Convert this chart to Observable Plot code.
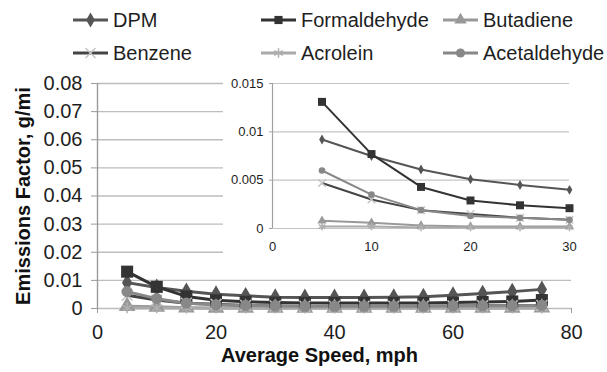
<!DOCTYPE html>
<html>
<head>
<meta charset="utf-8">
<script src="https://cdn.jsdelivr.net/npm/d3@7"></script>
<script src="https://cdn.jsdelivr.net/npm/@observablehq/plot@0.6"></script>
<style>
  html, body { margin: 0; padding: 0; background: #fff; }
  body { width: 607px; height: 372px; position: relative; overflow: hidden; font-family: "Liberation Sans", Arial, sans-serif; }
  #main { position: absolute; left: 0; top: 0; }
  #inset { position: absolute; left: 223px; top: 66px; width: 384px; height: 194px; background: #fff; }
  #legend { position: absolute; left: 0; top: 0; width: 607px; height: 66px; }
  .item { position: absolute; display: flex; align-items: center; font-size: 20px; color: #1e1e1e; white-space: nowrap; }
  .item svg { margin-right: 5px; }
</style>
</head>
<body>
<div id="main"></div>
<div id="inset"></div>
<div id="legend"></div>
<script>
// ---- data ----
const speed = [5, 10, 15, 20, 25, 30, 35, 40, 45, 50, 55, 60, 65, 70, 75];
const dpm          = [0.0092, 0.0075, 0.0061, 0.0051, 0.0045, 0.0040, 0.0039, 0.0039, 0.0039, 0.0040, 0.0042, 0.0047, 0.0053, 0.0060, 0.0068];
const formaldehyde = [0.0131, 0.0077, 0.0043, 0.0029, 0.0024, 0.0021, 0.0020, 0.0020, 0.0020, 0.0020, 0.0020, 0.0021, 0.0023, 0.0025, 0.0030];
const butadiene    = [0.0008, 0.0006, 0.0003, 0.0002, 0.0002, 0.0002, 0.0002, 0.0002, 0.0002, 0.0002, 0.0002, 0.0002, 0.0002, 0.0002, 0.0003];
const benzene      = [0.0047, 0.0030, 0.0019, 0.0015, 0.0011, 0.0009, 0.0008, 0.0008, 0.0008, 0.0008, 0.0008, 0.0009, 0.0010, 0.0010, 0.0011];
const acrolein     = [0.0002, 0.0002, 0.0001, 0.0001, 0.0001, 0.0001, 0.0001, 0.0001, 0.0001, 0.0001, 0.0001, 0.0001, 0.0001, 0.0001, 0.0001];
const acetaldehyde = [0.0060, 0.0035, 0.0019, 0.0013, 0.0011, 0.0009, 0.0008, 0.0008, 0.0008, 0.0008, 0.0008, 0.0009, 0.0010, 0.0010, 0.0011];

const seriesNames = ["DPM", "Formaldehyde", "Butadiene", "Benzene", "Acrolein", "Acetaldehyde"];
const xTicksMain = [0, 20, 40, 60, 80];
const yTicksMain = [0, 0.01, 0.02, 0.03, 0.04, 0.05, 0.06, 0.07, 0.08];
const xTicksInset = [0, 10, 20, 30];
const yTicksInset = [0, 0.005, 0.01, 0.015];
const insetCount = 6; // speeds 5..30 shown in inset
const xTitle = "Average Speed, mph";
const yTitle = "Emissions Factor, g/mi";

// ---- styles ----
const styles = [
  {values: dpm,          symbol: "diamond",  line: "#555", fill: "#555", stroke: "none", rM: 5.4, rI: 3.0},
  {values: formaldehyde, symbol: "square",   line: "#333", fill: "#333", stroke: "none", rM: 6.8, rI: 4.5},
  {values: butadiene,    symbol: "triangle", line: "#999", fill: "#999", stroke: "none", rM: 6.2, rI: 3.4},
  {values: benzene,      symbol: "times",    line: "#444", fill: "none", stroke: "#c4c4c4", rM: 5.0, rI: 3.5},
  {values: acrolein,     symbol: "asterisk", line: "#aaa", fill: "none", stroke: "#b0b0b0", rM: 5.0, rI: 3.5},
  {values: acetaldehyde, symbol: "circle",   line: "#888", fill: "#888", stroke: "none", rM: 5.6, rI: 3.3}
];

const font = "'Liberation Sans', Arial, sans-serif";

function seriesMarks(n, rKey, lw) {
  const marks = [];
  for (const s of styles) {
    const xs = speed.slice(0, n), ys = s.values.slice(0, n);
    marks.push(Plot.line(ys, {x: xs, y: ys, stroke: s.line, strokeWidth: lw}));
  }
  for (const s of styles) {
    const xs = speed.slice(0, n), ys = s.values.slice(0, n);
    marks.push(Plot.dot(ys, {x: xs, y: ys, symbol: s.symbol, r: s[rKey], fill: s.fill, stroke: s.stroke, strokeWidth: s.fill === "none" ? 1.5 : 0}));
  }
  return marks;
}

// ---- main chart ----
const main = Plot.plot({
  width: 607, height: 372,
  marginTop: 83, marginBottom: 64, marginLeft: 97, marginRight: 36,
  style: {fontFamily: font, background: "transparent", overflow: "visible"},
  x: {domain: [0, 80]},
  y: {domain: [0, 0.08]},
  marks: [
    Plot.gridY(yTicksMain, {stroke: "#bdbdbd", strokeOpacity: 1, strokeWidth: 1.4}),
    Plot.ruleX([0], {stroke: "#9a9a9a", strokeWidth: 1.4, y1: 0, y2: 0.08}),
    Plot.axisY(yTicksMain, {tickSize: 6, tickPadding: 9, fontSize: 20, fill: "#1e1e1e", stroke: "#9a9a9a", label: null,
      tickFormat: d => d === 0 ? "0" : d.toFixed(2)}),
    Plot.axisX(xTicksMain, {tickSize: 5, tickPadding: 11, fontSize: 20, fill: "#1e1e1e", stroke: "#9a9a9a", label: null}),
    ...seriesMarks(speed.length, "rM", 3),
    Plot.text([xTitle], {text: d => d, frameAnchor: "bottom", dy: 53, dx: -15, fontSize: 20, fontWeight: "bold", fill: "#111"}),
    Plot.text([yTitle], {text: d => d, frameAnchor: "left", textAnchor: "middle", dx: -74, rotate: -90, fontSize: 20, fontWeight: "bold", fill: "#111"})
  ]
});
document.getElementById("main").appendChild(main);

// ---- inset chart ----
const inset = Plot.plot({
  width: 384, height: 194,
  marginTop: 17, marginBottom: 32, marginLeft: 49, marginRight: 38,
  style: {fontFamily: font, background: "#fff", overflow: "visible"},
  x: {domain: [0, 30]},
  y: {domain: [0, 0.015]},
  marks: [
    Plot.gridY(yTicksInset, {stroke: "#c4c4c4", strokeOpacity: 1, strokeWidth: 1.2}),
    Plot.ruleX([0], {stroke: "#a0a0a0", strokeWidth: 1.2, y1: 0, y2: 0.015}),
    Plot.axisY(yTicksInset, {tickSize: 3, tickPadding: 6, fontSize: 13, fill: "#1e1e1e", stroke: "#a0a0a0", label: null,
      tickFormat: d => d === 0 ? "0" : String(+d.toFixed(3))}),
    Plot.axisX(xTicksInset, {tickSize: 0, tickPadding: 13, fontSize: 13, fill: "#1e1e1e", label: null}),
    ...seriesMarks(insetCount, "rI", 2)
  ]
});
document.getElementById("inset").appendChild(inset);

// ---- legend ----
const legend = document.getElementById("legend");
const cols = [73, 261, 443];
const rows = [20, 53];
seriesNames.forEach((name, i) => {
  const s = styles[i];
  const col = i % 3, row = Math.floor(i / 3);
  const div = document.createElement("div");
  div.className = "item";
  div.style.left = cols[col] + "px";
  div.style.top = (rows[row] - 12) + "px";
  div.style.height = "24px";
  const sym = {diamond: d3.symbolDiamond, square: d3.symbolSquare, triangle: d3.symbolTriangle,
    times: d3.symbolTimes, asterisk: d3.symbolAsterisk, circle: d3.symbolCircle}[s.symbol];
  const path = d3.symbol(sym, Math.PI * 4.6 * 4.6)();
  div.innerHTML = `<svg width="35" height="24" viewBox="0 0 35 24">
      <line x1="0" y1="12" x2="35" y2="12" stroke="${s.line}" stroke-width="3"/>
      <path transform="translate(17.5,12)" d="${path}" fill="${s.fill}" stroke="${s.stroke}" stroke-width="1.5"/>
    </svg><span>${name}</span>`;
  legend.appendChild(div);
});
</script>
</body>
</html>
